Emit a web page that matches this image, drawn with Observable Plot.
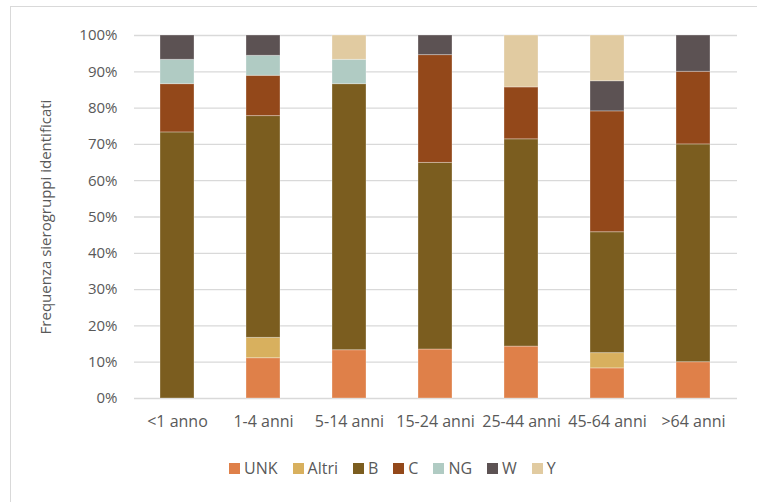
<!DOCTYPE html>
<html>
<head>
<meta charset="utf-8">
<script src="https://cdn.jsdelivr.net/npm/d3@7"></script>
<script src="https://cdn.jsdelivr.net/npm/@observablehq/plot@0.6"></script>
<style>
  html, body { margin: 0; padding: 0; background: #fff; overflow: hidden; width: 757px; height: 502px; }
  #frame { position: absolute; left: 10px; top: 6px; width: 800px; height: 560px; border: 1px solid #d9d9d9; box-sizing: border-box; }
  #chart { position: absolute; left: 0; top: 0; }
  #chart svg { font-family: "Open Sans", sans-serif; }
  #legend { position: absolute; left: 229px; top: 457px; display: flex; align-items: center; font-family: "Open Sans", sans-serif; font-size: 16px; color: #595959; }
  #legend .item { display: flex; align-items: center; margin-right: 15px; }
  #legend .sw { width: 11px; height: 11px; margin-right: 4px; }
</style>
</head>
<body>
<div id="frame"></div>
<div id="chart"></div>
<div id="legend"></div>
<script>
const categories = ["<1 anno", "1-4 anni", "5-14 anni", "15-24 anni", "25-44 anni", "45-64 anni", ">64 anni"];
const seriesNames = ["UNK", "Altri", "B", "C", "NG", "W", "Y"];
const UNK   = [0,    11.1, 13.3, 13.5, 14.3, 8.3,  10];
const Altri = [0,    5.6,  0,    0,    0,    4.2,  0];
const B     = [73.3, 61.1, 73.3, 51.4, 57.1, 33.3, 60];
const C     = [13.3, 11.1, 0,    29.7, 14.3, 33.3, 20];
const NG    = [6.7,  5.5,  6.7,  0,    0,    0,    0];
const W     = [6.7,  5.6,  0,    5.4,  0,    8.3,  10];
const Y     = [0,    0,    6.7,  0,    14.3, 12.6, 0];
const colors = ["#df8049", "#d8b05e", "#7b5d1f", "#93481a", "#b0cbc3", "#5c5253", "#e1cba1"];
const yTicks = [0, 10, 20, 30, 40, 50, 60, 70, 80, 90, 100];

const seriesValues = [UNK, Altri, B, C, NG, W, Y];
const data = [];
seriesNames.forEach((s, si) => {
  categories.forEach((c, ci) => {
    data.push({category: c, series: s, value: seriesValues[si][ci]});
  });
});

const chart = Plot.plot({
  width: 757,
  height: 440,
  marginLeft: 134,
  marginRight: 20,
  marginTop: 35,
  marginBottom: 42,
  style: {fontFamily: "Open Sans, sans-serif", color: "#595959", background: "transparent"},
  x: {domain: categories, paddingInner: 0.6, paddingOuter: 0.3, label: null},
  y: {domain: [0, 100], label: null},
  color: {domain: seriesNames, range: colors},
  marks: [
    Plot.ruleY(yTicks, {stroke: "#d9d9d9", strokeWidth: 1.3}),
    Plot.barY(data, {x: "category", y: "value", fill: "series", stroke: "#ffffff", strokeOpacity: 0.3, strokeWidth: 1, inset: 0}),
    Plot.axisY({ticks: yTicks, tickFormat: d => d + "%", tickSize: 0, tickPadding: 17, fontSize: 15, fill: "#595959", label: null}),
    Plot.axisY({ticks: [], label: "Frequenza sierogruppi identificati", labelAnchor: "center", labelArrow: "none", labelOffset: 94, fontSize: 15, fill: "#595959"}),
    Plot.axisX({tickSize: 0, tickPadding: 17, fontSize: 16, fill: "#595959", label: null})
  ]
});
document.getElementById("chart").appendChild(chart);

const legend = document.getElementById("legend");
seriesNames.forEach((s, i) => {
  const item = document.createElement("div");
  item.className = "item";
  const sw = document.createElement("div");
  sw.className = "sw";
  sw.style.background = colors[i];
  const t = document.createElement("span");
  t.textContent = s;
  item.appendChild(sw);
  item.appendChild(t);
  legend.appendChild(item);
});
</script>
</body>
</html>
